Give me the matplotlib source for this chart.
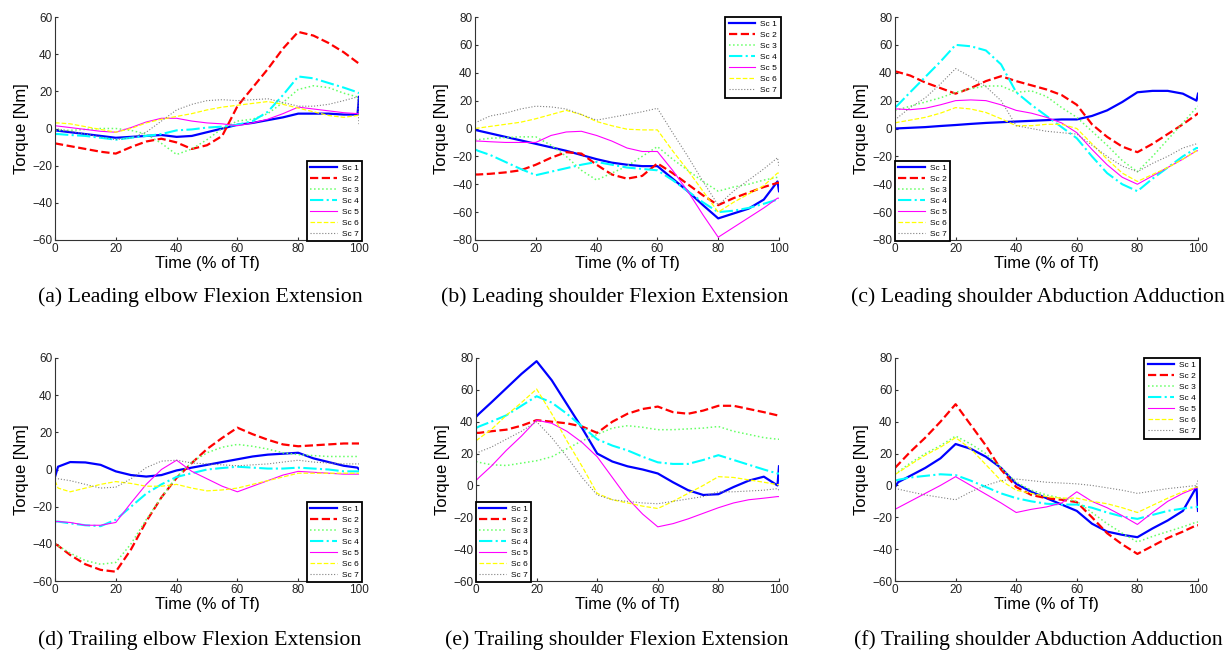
import matplotlib
matplotlib.use("Agg")
import matplotlib.pyplot as plt

plt.rcParams['font.family'] = ['Liberation Sans', 'DejaVu Sans']

# common time grid (% of Tf)
t = [0, 1, 5, 10, 15, 20, 25, 30, 35, 40, 45, 50, 55, 60, 65, 70, 75, 80, 85, 90, 95, 99.5, 100]

# (a) Leading elbow Flexion Extension
a_sc1 = [-1, -1.2, -2, -3, -4, -5, -4.5, -4, -3.5, -4.5, -4, -2, 0, 2, 3, 4.5, 6, 8, 8, 8, 7.5, 7.5, 17]
a_sc2 = [-8, -8.3, -9.5, -11, -12.5, -13.5, -10, -7, -5.5, -7.5, -11, -9, -4, 12, 22, 32, 43, 52, 50, 46, 41, 35.5, 35]
a_sc3 = [-1, -1, -1, -0.5, 0, 0, -1, -3, -8, -14, -11, -6, 0, 4, 5, 8, 14, 21, 23, 22, 19, 17, 16]
a_sc4 = [-3, -3, -3.5, -4, -5, -6, -5, -4, -3, -1, -0.5, 0.5, 1, 2, 4, 9, 18, 28, 27, 24.5, 22, 19.5, 19]
a_sc5 = [1.5, 1.3, 0.5, -0.5, -1.5, -2, 0.5, 3.5, 5.5, 5.5, 4, 3, 2.5, 1.5, 3, 5, 8, 11.5, 10.5, 9.5, 8.5, 8, 8]
a_sc6 = [3, 3, 2.5, 1, -0.5, -2, 0, 3, 5, 6.5, 8, 10, 11.5, 12.5, 13.5, 14.5, 13, 11, 9, 7, 6, 7, 8]
a_sc7 = [0, -0.3, -1.5, -3, -4.5, -6, -5, -2, 4, 10, 13, 15, 15.5, 15, 15.5, 16, 14, 12, 12, 13, 15, 17, 2]

# (b) Leading shoulder Flexion Extension
b_sc1 = [-1, -1.5, -3.5, -6, -8.5, -11, -13.5, -16, -19, -22, -24.5, -26, -27, -27, -36, -45, -55, -64.5, -61, -57.5, -51, -38, -45]
b_sc2 = [-33, -33, -32.5, -31.5, -30, -26, -21, -17, -18, -26, -33, -36, -34, -25, -32, -40, -48, -55, -50, -46, -42, -39, -39]
b_sc3 = [-8, -8, -7, -6.5, -6, -6, -12, -20, -30, -37, -32, -27, -20, -13, -22, -30, -38, -45, -42, -40, -37, -35, -35]
b_sc4 = [-15, -16, -19, -24, -29, -33.5, -31, -28.5, -26, -24, -26, -28, -29, -30, -37, -45, -53, -60, -59, -57, -54, -51, -51]
b_sc5 = [-9, -9, -9.5, -10, -10, -10, -5, -2.5, -2, -5, -9, -14, -16.5, -16.5, -30, -45, -62, -78, -71, -64, -57, -50, -50]
b_sc6 = [0, 0.3, 1.5, 3, 4.5, 7, 10, 13, 10, 5, 2, -0.5, -1, -1, -16, -30, -45, -60, -53, -47, -41, -32, -32]
b_sc7 = [4, 5, 9, 11, 14, 16, 15.5, 14, 10, 6, 8, 10, 12, 14.5, -3, -20, -38, -55, -45, -37, -29, -21, -27]

# (c) Leading shoulder Abduction Adduction
c_sc1 = [0, 0.1, 0.5, 1, 1.8, 2.5, 3.3, 4, 4.5, 5, 5.5, 6, 6.5, 6.5, 9, 13, 19, 26, 27, 27, 25, 20, 25]
c_sc2 = [41, 40.5, 38, 33, 29, 25, 29, 34, 37.5, 34, 31, 28, 24, 17, 3, -6, -13, -17, -11, -4, 3, 10, 11]
c_sc3 = [13, 13.5, 16, 19, 22, 26, 28.5, 30.5, 30.5, 26, 27, 23, 15, 8, -2, -12, -23, -31, -20, -8, 4, 15, 16]
c_sc4 = [15, 17, 26, 37, 48, 60, 59, 56, 46, 26, 17, 9, 1, -7, -20, -32, -40, -45, -36, -28, -20, -14, -14]
c_sc5 = [14, 14, 13.5, 14.5, 17, 20, 20.5, 20, 17, 13, 11, 8, 4, -3, -15, -26, -35, -40, -34, -28, -22, -16, -16]
c_sc6 = [4, 4.5, 6, 8, 11, 15, 14, 11.5, 7, 2, 2, 3, 3, 0, -11, -22, -32, -38, -33, -28, -22, -16, -16]
c_sc7 = [6, 8, 15, 22, 32, 43, 37, 30, 20, 2, 0, -2, -3, -4, -12, -20, -27, -31, -25, -20, -14, -11, -11]

# (d) Trailing elbow Flexion Extension
d_sc1 = [-4, 1.5, 4, 3.8, 2.5, -1, -3, -3.8, -3, -0.5, 1, 2.5, 4, 5.5, 7, 8, 8.5, 9, 6, 4, 2, 1, 0]
d_sc2 = [-40, -41, -46, -51, -54, -55, -43, -28, -15, -4.5, 3.5, 11, 17, 22.5, 19, 16, 13.5, 12.5, 13, 13.5, 14, 14, 14]
d_sc3 = [-40, -41, -45, -49, -51, -50, -40, -27, -15, -4, 4, 9, 12, 13.5, 12.5, 11, 9, 8, 7.5, 7, 7, 7, 7]
d_sc4 = [-28, -28, -29, -30, -30.5, -27, -20, -13, -8, -4, -2, 0, 0.8, 1.5, 1, 0.5, 0.5, 1, 0.5, 0, -1, -1, -1]
d_sc5 = [-28, -28, -28.5, -30, -30, -28.5, -18, -8, 0, 5, -1, -5, -9, -12, -9, -6, -3, -1, -1.5, -2, -2.5, -2.5, -2.5]
d_sc6 = [-6, -10, -12, -10, -8, -6.5, -7.5, -9, -9, -8, -10, -11.5, -11, -10, -8, -6, -4, -2, -2, -2, -2, -2, -2]
d_sc7 = [-5, -5, -6, -8, -10, -9.5, -5, 1, 4.5, 5, 3.5, 3, 2.5, 2, 2.5, 3, 4, 5, 4, 3.5, 3, 3, 3]

# (e) Trailing shoulder Flexion Extension
e_sc1 = [43, 45, 52, 61, 70, 78, 66, 51, 36, 20, 15, 12, 10, 7.5, 2, -3, -6, -5.5, -1, 3, 5.5, 0, 12]
e_sc2 = [33, 33, 34, 35, 37.5, 41, 40, 39, 37, 33, 40, 45, 48, 49.5, 46, 45, 47, 50, 50, 48, 46, 44, 44]
e_sc3 = [15, 14.5, 13, 12.5, 14, 15.5, 18, 23, 28, 32, 36, 37.5, 36.5, 35, 35, 35.5, 36, 37, 34, 32, 30, 29, 29]
e_sc4 = [36, 37, 40, 44, 50, 56, 52, 45, 37, 29, 25, 22, 18, 14.5, 13.5, 13.5, 16, 19, 16, 13, 10, 7.5, 7.5]
e_sc5 = [3, 5, 12, 22, 31, 41, 39, 34, 27, 18, 5, -8, -18, -26, -24, -21, -17.5, -14, -11, -9, -8, -7, -7]
e_sc6 = [28, 29.5, 35, 44, 52, 60.5, 45, 28, 12, -5, -9, -11, -13, -14.5, -10, -5, 0, 5.5, 5, 3.5, 2, 0.5, 0.5]
e_sc7 = [20, 21, 24, 29, 34, 40, 30, 18, 5, -6, -9, -10, -11, -11.5, -10, -8.5, -7, -4, -4, -3.5, -3, -2, -3]

# (f) Trailing shoulder Abduction Adduction
f_sc1 = [-1, 2, 6, 11, 17, 26, 23, 18, 11, 1, -4, -8, -12, -16, -24, -29, -31, -32.5, -27, -22, -16, -1, -16]
f_sc2 = [11, 13, 21, 30, 40, 51, 38, 25, 10, -1, -6, -8, -9, -10.5, -20, -30, -37, -43, -38, -33, -29, -25, -25]
f_sc3 = [7, 8.5, 14, 20, 25, 31, 26, 20, 11, 2, -3, -6, -8, -10, -17, -24, -30, -35.5, -32, -29, -26, -23, -23]
f_sc4 = [3, 3.5, 5, 6, 7, 6.5, 3, -1, -5, -8, -10, -11.5, -12, -12, -14, -17, -19.5, -21, -18.5, -16, -14.5, -13.5, -13.5]
f_sc5 = [-15, -14, -10, -5, 0, 5.5, 0, -5.5, -11, -17, -15, -13.5, -11, -4, -10, -14, -19, -24.5, -17, -10, -5, -1.5, -1.5]
f_sc6 = [7, 8, 13, 19, 24, 30, 23, 13, 3, -3, -5, -7, -8, -8, -10, -11.5, -14, -17, -12.5, -8, -4, -1, -1]
f_sc7 = [-2, -2.3, -4, -6, -7.5, -9, -4, 0, 3, 4, 3, 2, 1.5, 1, 0, -1.5, -3, -5, -3.5, -2, -1, 0, 3.5]

labels = ['Sc 1', 'Sc 2', 'Sc 3', 'Sc 4', 'Sc 5', 'Sc 6', 'Sc 7']
captions = ['(a) Leading elbow Flexion Extension',
            '(b) Leading shoulder Flexion Extension',
            '(c) Leading shoulder Abduction Adduction',
            '(d) Trailing elbow Flexion Extension',
            '(e) Trailing shoulder Flexion Extension',
            '(f) Trailing shoulder Abduction Adduction']

# line styles per scenario (MATLAB-like)
styles = [dict(color='#0000ff', ls='-', lw=1.6),
          dict(color='#ff0000', ls='--', lw=1.6),
          dict(color='#66ff66', ls=':', lw=1.1),
          dict(color='#00ffff', ls='-.', lw=1.5),
          dict(color='#ff00ff', ls='-', lw=0.8),
          dict(color='#ffff00', ls='--', lw=0.9),
          dict(color='#808080', ls=':', lw=0.8)]

panels = [
    dict(data=[a_sc1, a_sc2, a_sc3, a_sc4, a_sc5, a_sc6, a_sc7], ylim=(-60, 60), leg='lower right'),
    dict(data=[b_sc1, b_sc2, b_sc3, b_sc4, b_sc5, b_sc6, b_sc7], ylim=(-80, 80), leg='upper right'),
    dict(data=[c_sc1, c_sc2, c_sc3, c_sc4, c_sc5, c_sc6, c_sc7], ylim=(-80, 80), leg='lower left'),
    dict(data=[d_sc1, d_sc2, d_sc3, d_sc4, d_sc5, d_sc6, d_sc7], ylim=(-60, 60), leg='lower right'),
    dict(data=[e_sc1, e_sc2, e_sc3, e_sc4, e_sc5, e_sc6, e_sc7], ylim=(-60, 80), leg='lower left'),
    dict(data=[f_sc1, f_sc2, f_sc3, f_sc4, f_sc5, f_sc6, f_sc7], ylim=(-60, 80), leg='upper right'),
]

W, H = 1230, 651
fig = plt.figure(figsize=(W / 100, H / 100), dpi=100)

# axes boxes in pixels: left, top, right, bottom
boxes = [(55, 17, 359, 240), (475, 17, 779, 240), (895, 17, 1198, 240),
         (55, 358, 359, 581), (476, 358, 779, 581), (895, 358, 1198, 581)]
cap_pos = [(200, 297), (615, 297), (1038, 297), (200, 640), (617, 640), (1038, 640)]
anchors = {'lower right': (1.01, -0.005), 'upper right': (1.005, 1.0), 'lower left': (0.0, -0.005)}

for i, p in enumerate(panels):
    l, tp, r, b = boxes[i]
    ax = fig.add_axes([l / W, 1 - b / H, (r - l) / W, (b - tp) / H])
    for k, y in enumerate(p['data']):
        st = styles[k]
        ax.plot(t, y, color=st['color'], linestyle=st['ls'], linewidth=st['lw'], label=labels[k])
    ax.set_xlim(0, 100)
    ax.set_ylim(*p['ylim'])
    ax.set_xticks(range(0, 101, 20))
    ax.set_yticks(range(p['ylim'][0], p['ylim'][1] + 1, 20))
    ax.spines['top'].set_visible(False)
    ax.spines['right'].set_visible(False)
    for s in ('left', 'bottom'):
        ax.spines[s].set_color('#333333')
        ax.spines[s].set_linewidth(0.8)
    ax.tick_params(direction='in', length=2.5, width=0.8, labelsize=8.5, colors='#333333',
                   labelcolor='#222222', pad=2)
    ax.set_xlabel('Time (% of Tf)', fontsize=12, labelpad=1)
    ax.set_ylabel('Torque [Nm]', fontsize=12, labelpad=2)
    leg = ax.legend(loc=p['leg'], bbox_to_anchor=anchors[p['leg']], borderaxespad=0,
                    fontsize=6, handlelength=3.2, handletextpad=0.6, labelspacing=0.38,
                    borderpad=0.4, fancybox=False, framealpha=1)
    leg.get_frame().set_edgecolor('black')
    leg.get_frame().set_linewidth(1.3)
    fig.text(cap_pos[i][0] / W, 1 - cap_pos[i][1] / H, captions[i], ha='center', va='center',
             fontsize=15.7, family=['Liberation Serif', 'DejaVu Serif'])

fig.savefig('out.png', dpi=100)
